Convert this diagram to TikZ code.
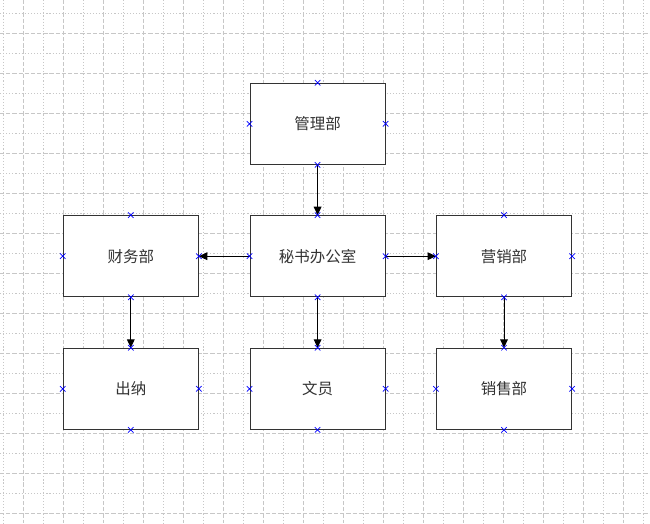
\documentclass[tikz,border=0pt]{standalone}
\usepackage{fontspec}
\newfontfamily\cjk{Noto Sans CJK SC}
\usetikzlibrary{arrows.meta,shapes.misc}
\tikzset{
    dept/.style={draw=black!80, line width=0.8pt, fill=white,
        minimum width=3.375cm, minimum height=2.025cm, inner sep=0pt,
        font=\cjk\fontsize{11}{13}\selectfont, text=black!80},
    xpoint/.style={cross out, draw=blue, line width=0.5pt,
        minimum size=3.4pt, inner sep=0pt},
    link/.style={-{Triangle[length=6pt,width=5.5pt]}, black, line width=0.7pt}
}
\begin{document}
\begin{tikzpicture}
    \useasboundingbox (0, 0) rectangle (16.25, -13.075);
    \fill[white] (0, 0) rectangle (16.25, -13.075);

    % Background grid, dotted and dashed lines in turn
    \foreach \x in {0,...,16} {
        \draw[black!22, line width=0.6pt, dash pattern=on 0.8pt off 1.4pt]
            (\x + 0.083, 0) -- (\x + 0.083, -13.075);
        \draw[black!22, line width=0.6pt, dash pattern=on 3pt off 1.4pt]
            (\x + 0.583, 0) -- (\x + 0.583, -13.075);
    }
    \foreach \y in {0,...,12} {
        \draw[black!22, line width=0.6pt, dash pattern=on 0.8pt off 1.4pt]
            (0, -\y - 0.333) -- (16.25, -\y - 0.333);
        \draw[black!22, line width=0.6pt, dash pattern=on 3pt off 1.4pt]
            (0, -\y - 0.833) -- (16.25, -\y - 0.833);
    }

    % Departments
    \foreach \n/\x/\y/\t in {
        guanli/7.94/-3.095/管理部, mishu/7.94/-6.405/秘书办公室,
        caiwu/3.27/-6.405/财务部, yingxiao/12.6/-6.405/营销部,
        chuna/3.27/-9.72/出纳, wenyuan/7.94/-9.72/文员,
        xiaoshou/12.6/-9.72/销售部
    }
    \node[dept] (\n) at (\x, \y) {\t};

    % Links between departments
    \draw[link] (guanli.south) -- (mishu.north);
    \draw[link] (mishu.west) -- (caiwu.east);
    \draw[link] (mishu.east) -- (yingxiao.west);
    \draw[link] (caiwu.south) -- (chuna.north);
    \draw[link] (mishu.south) -- (wenyuan.north);
    \draw[link] (yingxiao.south) -- (xiaoshou.north);

    % Connection points on every side
    \foreach \n in {guanli, mishu, caiwu, yingxiao, chuna, wenyuan, xiaoshou}
        \foreach \a in {north, south, east, west}
            \node[xpoint] (\n-\a) at (\n.\a) {};
\end{tikzpicture}
\end{document}
